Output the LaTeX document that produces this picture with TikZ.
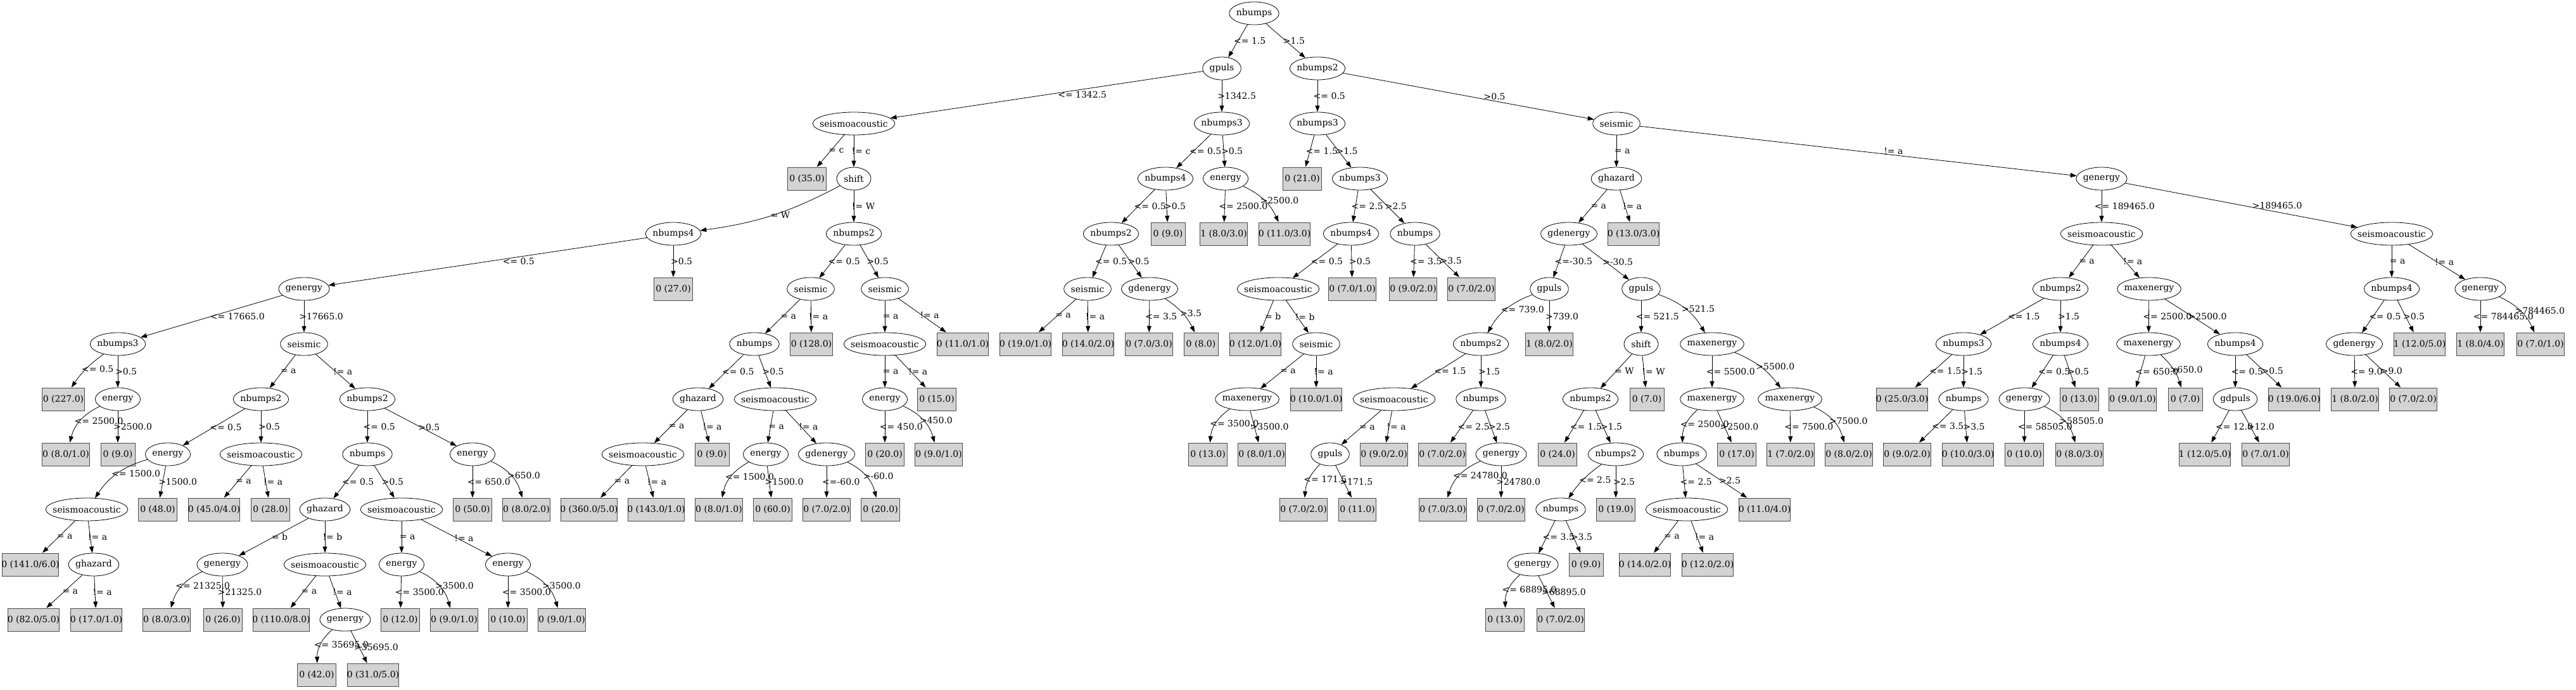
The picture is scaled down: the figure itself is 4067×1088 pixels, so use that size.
\documentclass[tikz,border=0pt]{standalone}
\usepackage{fontspec}
\setmainfont{DejaVu Serif}
\newfontfamily\timesfont{Liberation Serif}
\usetikzlibrary{shapes.geometric,arrows.meta}
\definecolor{leafgray}{RGB}{211,211,211}

\newlength\labw
\newcommand\nodefont{\fontsize{14pt}{17pt}\selectfont}
% label boxes: ellipse text and leaf/branch text
\newcommand\ew[1]{\settowidth{\labw}{#1}\makebox[\dimexpr(\labw+22pt)*1000/1414\relax]{#1}}
\newcommand\tw[1]{\settowidth{\labw}{\timesfont #1}\makebox[\labw]{#1}}
\newcommand\attrnode[4]{\node[attr] (#1) at (#2,#3) {\ew{#4}};}
\newcommand\leafnode[4]{\node[leaf] (#1) at (#2,#3) {\tw{#4}};}
\newcommand\br[4][]{\draw[branch] (#2) to[#1] node[cond] {\tw{#4}} (#3);}

\tikzset{
  attr/.style={draw,ellipse,line width=0.8pt,inner sep=0pt,minimum width=54pt,minimum height=36pt},
  leaf/.style={draw=black!70,fill=leafgray,line width=1pt,inner xsep=8pt,inner ysep=0pt,minimum width=54pt,minimum height=36pt},
  branch/.style={line width=0.8pt,-{Triangle[length=10pt,width=7pt]}},
  cond/.style={anchor=west,inner sep=0pt}
}

\begin{document}
\begin{tikzpicture}[x=1pt,y=1pt,font=\nodefont]
	\useasboundingbox (0,0) rectangle (4067,-1088);
	% level 0-2
	\attrnode{1}{1980}{-21}{nbumps}
	\attrnode{2}{1929}{-108}{gpuls}
	\attrnode{3}{2080}{-108}{nbumps2}
	\attrnode{4}{1348}{-195}{seismoacoustic}
	\attrnode{5}{1929}{-195}{nbumps3}
	\attrnode{6}{2080}{-195}{nbumps3}
	\attrnode{7}{2552}{-195}{seismic}
	% level 3
	\leafnode{8}{1274}{-282}{0 (35.0)}
	\attrnode{9}{1348}{-282}{shift}
	\attrnode{10}{1840}{-282}{nbumps4}
	\attrnode{11}{1935}{-282}{energy}
	\leafnode{12}{2056}{-282}{0 (21.0)}
	\attrnode{13}{2147}{-282}{nbumps3}
	\attrnode{14}{2552}{-282}{ghazard}
	\attrnode{15}{3318}{-282}{genergy}
	% level 4
	\attrnode{16}{1063}{-369}{nbumps4}
	\attrnode{17}{1348}{-369}{nbumps2}
	\attrnode{18}{1754}{-369}{nbumps2}
	\leafnode{19}{1844}{-369}{0 (9.0)}
	\leafnode{20}{1932}{-369}{1 (8.0/3.0)}
	\leafnode{21}{2028}{-369}{0 (11.0/3.0)}
	\attrnode{22}{2133}{-369}{nbumps4}
	\attrnode{23}{2234}{-369}{nbumps}
	\attrnode{24}{2477}{-369}{gdenergy}
	\leafnode{25}{2579}{-369}{0 (13.0/3.0)}
	\attrnode{26}{3318}{-369}{seismoacoustic}
	\attrnode{27}{3776}{-369}{seismoacoustic}
	% level 5
	\attrnode{28}{480}{-456}{genergy}
	\leafnode{29}{1063}{-456}{0 (27.0)}
	\attrnode{30}{1280}{-456}{seismic}
	\attrnode{31}{1397}{-456}{seismic}
	\attrnode{32}{1717}{-456}{seismic}
	\attrnode{33}{1815}{-456}{gdenergy}
	\attrnode{34}{2018}{-456}{seismoacoustic}
	\leafnode{35}{2135}{-456}{0 (7.0/1.0)}
	\leafnode{36}{2231}{-456}{0 (9.0/2.0)}
	\leafnode{37}{2323}{-456}{0 (7.0/2.0)}
	\attrnode{38}{2446}{-456}{gpuls}
	\attrnode{39}{2591}{-456}{gpuls}
	\attrnode{40}{3253}{-456}{nbumps2}
	\attrnode{41}{3393}{-456}{maxenergy}
	\attrnode{42}{3776}{-456}{nbumps4}
	\attrnode{43}{3916}{-456}{genergy}
	% level 6
	\attrnode{44}{186}{-543}{nbumps3}
	\attrnode{45}{480}{-543}{seismic}
	\attrnode{46}{1191}{-543}{nbumps}
	\leafnode{47}{1281}{-543}{0 (128.0)}
	\attrnode{48}{1397}{-543}{seismoacoustic}
	\leafnode{49}{1520}{-543}{0 (11.0/1.0)}
	\leafnode{50}{1619}{-543}{0 (19.0/1.0)}
	\leafnode{51}{1718}{-543}{0 (14.0/2.0)}
	\leafnode{52}{1814}{-543}{0 (7.0/3.0)}
	\leafnode{53}{1896}{-543}{0 (8.0)}
	\leafnode{54}{1982}{-543}{0 (12.0/1.0)}
	\attrnode{55}{2078}{-543}{seismic}
	\attrnode{56}{2338}{-543}{nbumps2}
	\leafnode{57}{2446}{-543}{1 (8.0/2.0)}
	\attrnode{58}{2591}{-543}{shift}
	\attrnode{59}{2703}{-543}{maxenergy}
	\attrnode{60}{3100}{-543}{nbumps3}
	\attrnode{61}{3253}{-543}{nbumps4}
	\attrnode{62}{3392}{-543}{maxenergy}
	\attrnode{63}{3529}{-543}{nbumps4}
	\attrnode{64}{3717}{-543}{gdenergy}
	\leafnode{65}{3820}{-543}{1 (12.0/5.0)}
	\leafnode{66}{3916}{-543}{1 (8.0/4.0)}
	\leafnode{67}{4011}{-543}{0 (7.0/1.0)}
	% level 7
	\leafnode{68}{100}{-630}{0 (227.0)}
	\attrnode{69}{186}{-630}{energy}
	\attrnode{70}{412}{-630}{nbumps2}
	\attrnode{71}{580}{-630}{nbumps2}
	\attrnode{72}{1102}{-630}{ghazard}
	\attrnode{73}{1224}{-630}{seismoacoustic}
	\attrnode{74}{1397}{-630}{energy}
	\leafnode{75}{1479}{-630}{0 (15.0)}
	\attrnode{76}{1969}{-630}{maxenergy}
	\leafnode{77}{2078}{-630}{0 (10.0/1.0)}
	\attrnode{78}{2201}{-630}{seismoacoustic}
	\attrnode{79}{2338}{-630}{nbumps}
	\attrnode{80}{2511}{-630}{nbumps2}
	\leafnode{81}{2600}{-630}{0 (7.0)}
	\attrnode{82}{2703}{-630}{maxenergy}
	\attrnode{83}{2826}{-630}{maxenergy}
	\leafnode{84}{3003}{-630}{0 (25.0/3.0)}
	\attrnode{85}{3100}{-630}{nbumps}
	\attrnode{86}{3196}{-630}{genergy}
	\leafnode{87}{3283}{-630}{0 (13.0)}
	\leafnode{88}{3367}{-630}{0 (9.0/1.0)}
	\leafnode{89}{3450}{-630}{0 (7.0)}
	\attrnode{90}{3529}{-630}{gdpuls}
	\leafnode{91}{3622}{-630}{0 (19.0/6.0)}
	\leafnode{92}{3718}{-630}{1 (8.0/2.0)}
	\leafnode{93}{3810}{-630}{0 (7.0/2.0)}
	% level 8
	\leafnode{94}{104}{-717}{0 (8.0/1.0)}
	\leafnode{95}{186}{-717}{0 (9.0)}
	\attrnode{96}{265}{-717}{energy}
	\attrnode{97}{412}{-717}{seismoacoustic}
	\attrnode{98}{580}{-717}{nbumps}
	\attrnode{99}{746}{-717}{energy}
	\attrnode{100}{1015}{-717}{seismoacoustic}
	\leafnode{101}{1124}{-717}{0 (9.0)}
	\attrnode{102}{1209}{-717}{energy}
	\attrnode{103}{1305}{-717}{gdenergy}
	\leafnode{104}{1397}{-717}{0 (20.0)}
	\leafnode{105}{1482}{-717}{0 (9.0/1.0)}
	\leafnode{106}{1907}{-717}{0 (13.0)}
	\leafnode{107}{1992}{-717}{0 (8.0/1.0)}
	\attrnode{108}{2100}{-717}{gpuls}
	\leafnode{109}{2185}{-717}{0 (9.0/2.0)}
	\leafnode{110}{2277}{-717}{0 (7.0/2.0)}
	\attrnode{111}{2370}{-717}{genergy}
	\leafnode{112}{2459}{-717}{0 (24.0)}
	\attrnode{113}{2551}{-717}{nbumps2}
	\attrnode{114}{2655}{-717}{nbumps}
	\leafnode{115}{2742}{-717}{0 (17.0)}
	\leafnode{116}{2827}{-717}{1 (7.0/2.0)}
	\leafnode{117}{2919}{-717}{0 (8.0/2.0)}
	\leafnode{118}{3011}{-717}{0 (9.0/2.0)}
	\leafnode{119}{3107}{-717}{0 (10.0/3.0)}
	\leafnode{120}{3196}{-717}{0 (10.0)}
	\leafnode{121}{3283}{-717}{0 (8.0/3.0)}
	\leafnode{122}{3481}{-717}{1 (12.0/5.0)}
	\leafnode{123}{3577}{-717}{0 (7.0/1.0)}
	% level 9
	\attrnode{124}{137}{-804}{seismoacoustic}
	\leafnode{125}{249}{-804}{0 (48.0)}
	\leafnode{126}{338}{-804}{0 (45.0/4.0)}
	\leafnode{127}{427}{-804}{0 (28.0)}
	\attrnode{128}{513}{-804}{ghazard}
	\attrnode{129}{634}{-804}{seismoacoustic}
	\leafnode{130}{746}{-804}{0 (50.0)}
	\leafnode{131}{831}{-804}{0 (8.0/2.0)}
	\leafnode{132}{930}{-804}{0 (360.0/5.0)}
	\leafnode{133}{1036}{-804}{0 (143.0/1.0)}
	\leafnode{134}{1135}{-804}{0 (8.0/1.0)}
	\leafnode{135}{1220}{-804}{0 (60.0)}
	\leafnode{136}{1305}{-804}{0 (7.0/2.0)}
	\leafnode{137}{1390}{-804}{0 (20.0)}
	\leafnode{138}{2058}{-804}{0 (7.0/2.0)}
	\leafnode{139}{2143}{-804}{0 (11.0)}
	\leafnode{140}{2278}{-804}{0 (7.0/3.0)}
	\leafnode{141}{2370}{-804}{0 (7.0/2.0)}
	\attrnode{142}{2464}{-804}{nbumps}
	\leafnode{143}{2551}{-804}{0 (19.0)}
	\attrnode{144}{2663}{-804}{seismoacoustic}
	\leafnode{145}{2786}{-804}{0 (11.0/4.0)}
	% level 10
	\leafnode{146}{48}{-891}{0 (141.0/6.0)}
	\attrnode{147}{148}{-891}{ghazard}
	\attrnode{148}{351}{-891}{genergy}
	\attrnode{149}{513}{-891}{seismoacoustic}
	\attrnode{150}{634}{-891}{energy}
	\attrnode{151}{802}{-891}{energy}
	\attrnode{152}{2420}{-891}{genergy}
	\leafnode{153}{2504}{-891}{0 (9.0)}
	\leafnode{154}{2597}{-891}{0 (14.0/2.0)}
	\leafnode{155}{2696}{-891}{0 (12.0/2.0)}
	% level 11-12
	\leafnode{156}{53}{-978}{0 (82.0/5.0)}
	\leafnode{157}{152}{-978}{0 (17.0/1.0)}
	\leafnode{158}{263}{-978}{0 (8.0/3.0)}
	\leafnode{159}{352}{-978}{0 (26.0)}
	\leafnode{160}{444}{-978}{0 (110.0/8.0)}
	\attrnode{161}{545}{-978}{genergy}
	\leafnode{162}{632}{-978}{0 (12.0)}
	\leafnode{163}{717}{-978}{0 (9.0/1.0)}
	\leafnode{164}{802}{-978}{0 (10.0)}
	\leafnode{165}{887}{-978}{0 (9.0/1.0)}
	\leafnode{166}{2376}{-978}{0 (13.0)}
	\leafnode{167}{2464}{-978}{0 (7.0/2.0)}
	\leafnode{168}{500}{-1065}{0 (42.0)}
	\leafnode{169}{589}{-1065}{0 (31.0/5.0)}

	% branches
	\br{1}{2}{<= 1.5}
	\br{1}{3}{>1.5}
	\draw[branch] (2) -- node[cond,xshift=27pt] {\tw{<= 1342.5}} (4);
	\br{2}{5}{>1342.5}
	\br{3}{6}{<= 0.5}
	\draw[branch] (3) -- node[cond,xshift=28pt] {\tw{>0.5}} (7);
	\br{4}{8}{= c}
	\br{4}{9}{!= c}
	\br{5}{10}{<= 0.5}
	\br{5}{11}{>0.5}
	\br{6}{12}{<= 1.5}
	\br{6}{13}{>1.5}
	\br{7}{14}{= a}
	\draw[branch] (7) -- node[cond,xshift=44pt] {\tw{!= a}} (15);
	\br[bend left=10]{9}{16}{= W}
	\br{9}{17}{!= W}
	\br{10}{18}{<= 0.5}
	\br{10}{19}{>0.5}
	\br{11}{20}{<= 2500.0}
	\br[bend left=20]{11}{21}{>2500.0}
	\br{13}{22}{<= 2.5}
	\br{13}{23}{>2.5}
	\br{14}{24}{= a}
	\br{14}{25}{!= a}
	\br{15}{26}{<= 189465.0}
	\draw[branch] (15) -- node[cond,xshift=26pt] {\tw{>189465.0}} (27);
	\draw[branch] (16) -- node[cond,xshift=30pt] {\tw{<= 0.5}} (28);
	\br{16}{29}{>0.5}
	\br{17}{30}{<= 0.5}
	\br{17}{31}{>0.5}
	\br{18}{32}{<= 0.5}
	\br{18}{33}{>0.5}
	\br{22}{34}{<= 0.5}
	\br{22}{35}{>0.5}
	\br{23}{36}{<= 3.5}
	\br{23}{37}{>3.5}
	\br{24}{38}{<=-30.5}
	\br{24}{39}{>-30.5}
	\br{26}{40}{= a}
	\br{26}{41}{!= a}
	\br{27}{42}{= a}
	\br{27}{43}{!= a}
	\draw[branch] (28) -- node[cond,xshift=8pt] {\tw{<= 17665.0}} (44);
	\br{28}{45}{>17665.0}
	\br{30}{46}{= a}
	\br{30}{47}{!= a}
	\br{31}{48}{= a}
	\br{31}{49}{!= a}
	\br{32}{50}{= a}
	\br{32}{51}{!= a}
	\br{33}{52}{<= 3.5}
	\br[bend left=15]{33}{53}{>3.5}
	\br{34}{54}{= b}
	\br{34}{55}{!= b}
	\br[bend right=20]{38}{56}{<= 739.0}
	\br{38}{57}{>739.0}
	\br{39}{58}{<= 521.5}
	\br[bend left=20]{39}{59}{>521.5}
	\br{40}{60}{<= 1.5}
	\br{40}{61}{>1.5}
	\br{41}{62}{<= 2500.0}
	\br{41}{63}{>2500.0}
	\br{42}{64}{<= 0.5}
	\br{42}{65}{>0.5}
	\br{43}{66}{<= 784465.0}
	\br[bend left=20]{43}{67}{>784465.0}
	\br[bend right=10]{44}{68}{<= 0.5}
	\br{44}{69}{>0.5}
	\br{45}{70}{= a}
	\br{45}{71}{!= a}
	\br{46}{72}{<= 0.5}
	\br{46}{73}{>0.5}
	\br{48}{74}{= a}
	\br{48}{75}{!= a}
	\br{55}{76}{= a}
	\br{55}{77}{!= a}
	\br{56}{78}{<= 1.5}
	\br{56}{79}{>1.5}
	\br{58}{80}{= W}
	\br{58}{81}{!= W}
	\br{59}{82}{<= 5500.0}
	\br[bend left=15]{59}{83}{>5500.0}
	\br{60}{84}{<= 1.5}
	\br{60}{85}{>1.5}
	\br{61}{86}{<= 0.5}
	\br{61}{87}{>0.5}
	\br{62}{88}{<= 650.0}
	\br[bend left=15]{62}{89}{>650.0}
	\br{63}{90}{<= 0.5}
	\br{63}{91}{>0.5}
	\br{64}{92}{<= 9.0}
	\br{64}{93}{>9.0}
	\br[bend right=25]{69}{94}{<= 2500.0}
	\br{69}{95}{>2500.0}
	\br{70}{96}{<= 0.5}
	\br{70}{97}{>0.5}
	\br{71}{98}{<= 0.5}
	\br{71}{99}{>0.5}
	\br{72}{100}{= a}
	\br{72}{101}{!= a}
	\br{73}{102}{= a}
	\br{73}{103}{!= a}
	\br{74}{104}{<= 450.0}
	\br[bend left=25]{74}{105}{>450.0}
	\br[bend right=25]{76}{106}{<= 3500.0}
	\br{76}{107}{>3500.0}
	\br{78}{108}{= a}
	\br{78}{109}{!= a}
	\br{79}{110}{<= 2.5}
	\br{79}{111}{>2.5}
	\br{80}{112}{<= 1.5}
	\br{80}{113}{>1.5}
	\br[bend right=25]{82}{114}{<= 2500.0}
	\br{82}{115}{>2500.0}
	\br{83}{116}{<= 7500.0}
	\br[bend left=25]{83}{117}{>7500.0}
	\br{85}{118}{<= 3.5}
	\br{85}{119}{>3.5}
	\br{86}{120}{<= 58505.0}
	\br[bend left=25]{86}{121}{>58505.0}
	\br{90}{122}{<= 12.0}
	\br{90}{123}{>12.0}
	\br[bend right=20]{96}{124}{<= 1500.0}
	\br{96}{125}{>1500.0}
	\br{97}{126}{= a}
	\br{97}{127}{!= a}
	\br{98}{128}{<= 0.5}
	\br{98}{129}{>0.5}
	\br{99}{130}{<= 650.0}
	\br[bend left=25]{99}{131}{>650.0}
	\br{100}{132}{= a}
	\br{100}{133}{!= a}
	\br[bend right=25]{102}{134}{<= 1500.0}
	\br{102}{135}{>1500.0}
	\br{103}{136}{<=-60.0}
	\br[bend left=25]{103}{137}{>-60.0}
	\br[bend right=20]{108}{138}{<= 171.5}
	\br{108}{139}{>171.5}
	\br[bend right=25]{111}{140}{<= 24780.0}
	\br{111}{141}{>24780.0}
	\br[bend right=10]{113}{142}{<= 2.5}
	\br{113}{143}{>2.5}
	\br{114}{144}{<= 2.5}
	\br{114}{145}{>2.5}
	\br{124}{146}{= a}
	\br{124}{147}{!= a}
	\br{128}{148}{= b}
	\br{128}{149}{!= b}
	\br{129}{150}{= a}
	\br{129}{151}{!= a}
	\br{142}{152}{<= 3.5}
	\br{142}{153}{>3.5}
	\br{144}{154}{= a}
	\br{144}{155}{!= a}
	\br{147}{156}{= a}
	\br{147}{157}{!= a}
	\br[bend right=25]{148}{158}{<= 21325.0}
	\br{148}{159}{>21325.0}
	\br{149}{160}{= a}
	\br{149}{161}{!= a}
	\br{150}{162}{<= 3500.0}
	\br[bend left=25]{150}{163}{>3500.0}
	\br{151}{164}{<= 3500.0}
	\br[bend left=25]{151}{165}{>3500.0}
	\br[bend right=25]{152}{166}{<= 68895.0}
	\br{152}{167}{>68895.0}
	\br[bend right=25]{161}{168}{<= 35695.0}
	\br{161}{169}{>35695.0}
\end{tikzpicture}
\end{document}
